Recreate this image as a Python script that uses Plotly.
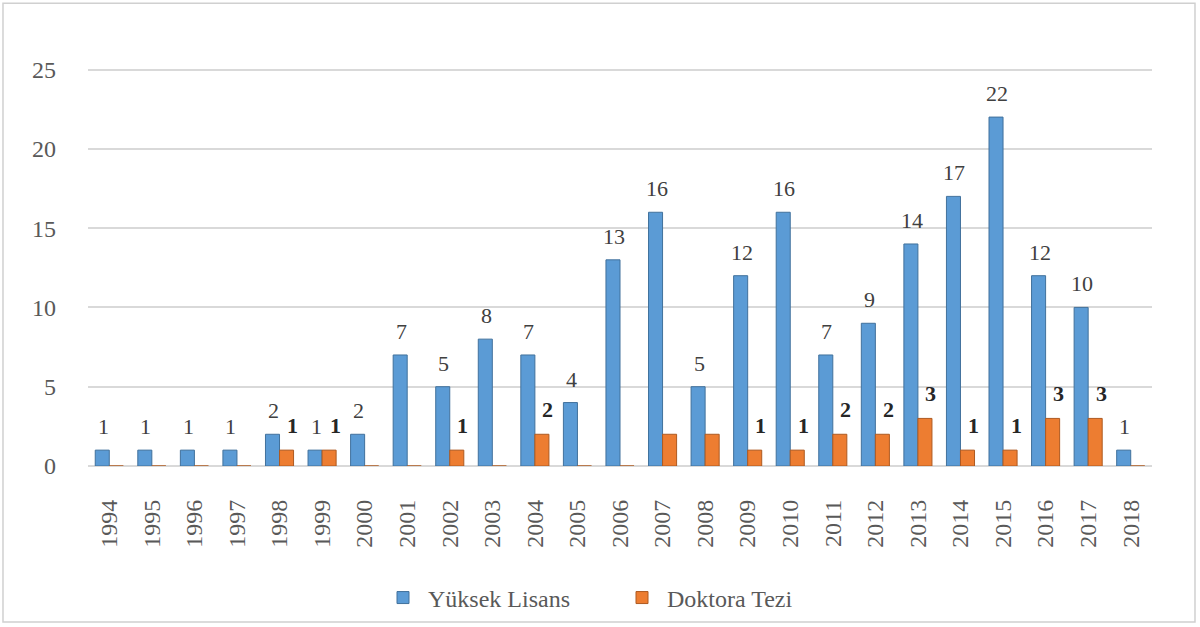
import plotly.graph_objects as go

years = [str(y) for y in range(1994, 2019)]
yuksek_lisans = [1, 1, 1, 1, 2, 1, 2, 7, 5, 8, 7, 4, 13, 16, 5, 12, 16, 7, 9, 14, 17, 22, 12, 10, 1]
doktora_tezi = [0, 0, 0, 0, 1, 1, 0, 0, 1, 0, 2, 0, 0, 2, 2, 1, 1, 2, 2, 3, 1, 1, 3, 3, 0]
doktora_labels = ["", "", "", "", "1", "1", "", "", "1", "", "2", "", "", "", "", "1", "1", "2", "2", "3", "1", "1", "3", "3", ""]

FONT = "Liberation Serif"

fig = go.Figure()
fig.add_trace(go.Bar(
    x=years, y=yuksek_lisans, name="Yüksek Lisans",
    marker=dict(color="#5B9BD5", line=dict(color="#41719C", width=1)),
))
fig.add_trace(go.Bar(
    x=years, y=doktora_tezi, name="Doktora Tezi",
    marker=dict(color="#ED7D31", line=dict(color="#AE5A21", width=1)),
))

# On a category axis, annotation positions are category indices
annotations = []
for i, v in enumerate(yuksek_lisans):
    annotations.append(dict(x=i, y=v, xref="x", yref="y", text=str(v), showarrow=False,
                            xanchor="center", yanchor="bottom", xshift=-6, yshift=9,
                            font=dict(family=FONT, size=22, color="#404040")))
for i, (v, lab) in enumerate(zip(doktora_tezi, doktora_labels)):
    if lab:
        annotations.append(dict(x=i, y=v, xref="x", yref="y", text="<b>" + lab + "</b>",
                                showarrow=False, xanchor="center", yanchor="bottom",
                                xshift=13, yshift=10,
                                font=dict(family=FONT, size=22, color="#262626")))

fig.update_layout(
    width=1200, height=627,
    margin=dict(l=88, r=48, t=60, b=161, autoexpand=False),
    paper_bgcolor="white", plot_bgcolor="white",
    barmode="group", bargap=0.34, bargroupgap=0,
    font=dict(family=FONT, color="#595959", size=24),
    legend=dict(orientation="h", x=(378 - 88) / 1064, xanchor="left", y=-0.325, yanchor="middle",
                font=dict(family=FONT, size=24, color="#595959"),
                itemwidth=40, entrywidth=184, entrywidthmode="pixels", traceorder="normal"),
    annotations=annotations,
    shapes=[dict(type="rect", xref="paper", yref="paper",
                 x0=-0.0799, x1=1.0404, y0=-0.384, y1=1.140,
                 line=dict(color="#D0D0D0", width=1.5), fillcolor="rgba(0,0,0,0)")],
)
fig.update_xaxes(type="category", range=[-0.5, len(years) - 0.5], tickangle=-90,
                 showgrid=False, showline=False, ticks="",
                 automargin=False, ticklabelstandoff=28,
                 tickfont=dict(family=FONT, size=24, color="#595959"))
fig.update_yaxes(range=[0, 25.6], dtick=5, showgrid=True, gridcolor="#D9D9D9", gridwidth=2,
                 zeroline=True, zerolinecolor="#D9D9D9", zerolinewidth=2, automargin=False,
                 showline=False, ticks="", ticklabelstandoff=31,
                 tickfont=dict(family=FONT, size=24, color="#595959"))

fig.write_html("out.html", config={"displayModeBar": False},
               post_script="document.body.style.margin='0';")
